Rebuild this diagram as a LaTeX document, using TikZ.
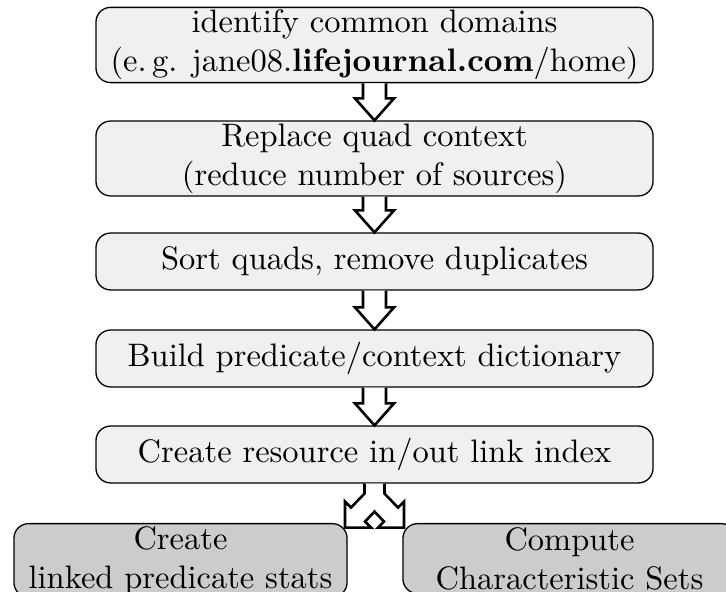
\documentclass[tikz,border=0pt]{standalone}
\usepackage{amsmath,amssymb}
\usepackage{xcolor}
\usepackage{tikz}
\usetikzlibrary{calc,positioning}

\begin{document}
\begin{tikzpicture}[x=0.30769pt,y=-0.30769pt,
  stepbox/.style={draw,rounded corners=4.5pt,fill=black!6,align=center,
    minimum width=171.4pt,minimum height=17.5pt,inner xsep=2pt,inner ysep=0.8pt},
  leafbox/.style={draw,rounded corners=4.5pt,fill=black!20,align=center,
    minimum width=102.5pt,minimum height=21.5pt,inner xsep=2pt,inner ysep=0.8pt},
  hollow/.style={draw,thick,fill=white,line join=miter}]
\useasboundingbox (0,0) rectangle (726,592);
\clip (0,0) rectangle (726,592);
% pipeline steps
\node[stepbox] (dom) at (374.5,45) {identify common domains\\(e.\,g. jane08.\textbf{lifejournal.com}/home)};
\node[stepbox] (ctx) at (374.5,158.5) {Replace quad context\\(reduce number of sources)};
\node[stepbox] (sort) at (374.5,261.5) {Sort quads, remove duplicates};
\node[stepbox] (dict) at (374.5,358.5) {Build predicate/context dictionary};
\node[stepbox] (link) at (374.5,454.5) {Create resource in/out link index};
\node[leafbox,anchor=north] (stats) at (180.5,523) {Create\\linked predicate stats};
\node[leafbox,anchor=north] (csets) at (569.5,523) {Compute\\Characteristic Sets};
% block arrows
\foreach \a/\b in {dom/ctx,ctx/sort,sort/dict,dict/link}
  \draw[hollow] ($(\a.south)+(-11.5,0)$) -- ($(\b.north)+(-11.5,-22)$) -- ($(\b.north)+(-19.5,-22)$)
    -- (\b.north) -- ($(\b.north)+(19.5,-22)$) -- ($(\b.north)+(11.5,-22)$) -- ($(\a.south)+(11.5,0)$);
% split arrow
\draw[hollow] ($(link.south)+(-10,0)$) -- ($(link.south)+(-10,10)$) -- ($(link.south)+(-23.5,24)$)
  -- ($(link.south)+(-29.5,18)$) -- ($(link.south)+(-29.5,44)$) -- ($(link.south)+(-3.5,44)$)
  -- ($(link.south)+(-9.5,38)$) -- ($(link.south)+(0,28)$) -- ($(link.south)+(9.5,38)$)
  -- ($(link.south)+(3.5,44)$) -- ($(link.south)+(29.5,44)$) -- ($(link.south)+(29.5,18)$)
  -- ($(link.south)+(23.5,24)$) -- ($(link.south)+(10,10)$) -- ($(link.south)+(10,0)$);
\end{tikzpicture}
\end{document}
